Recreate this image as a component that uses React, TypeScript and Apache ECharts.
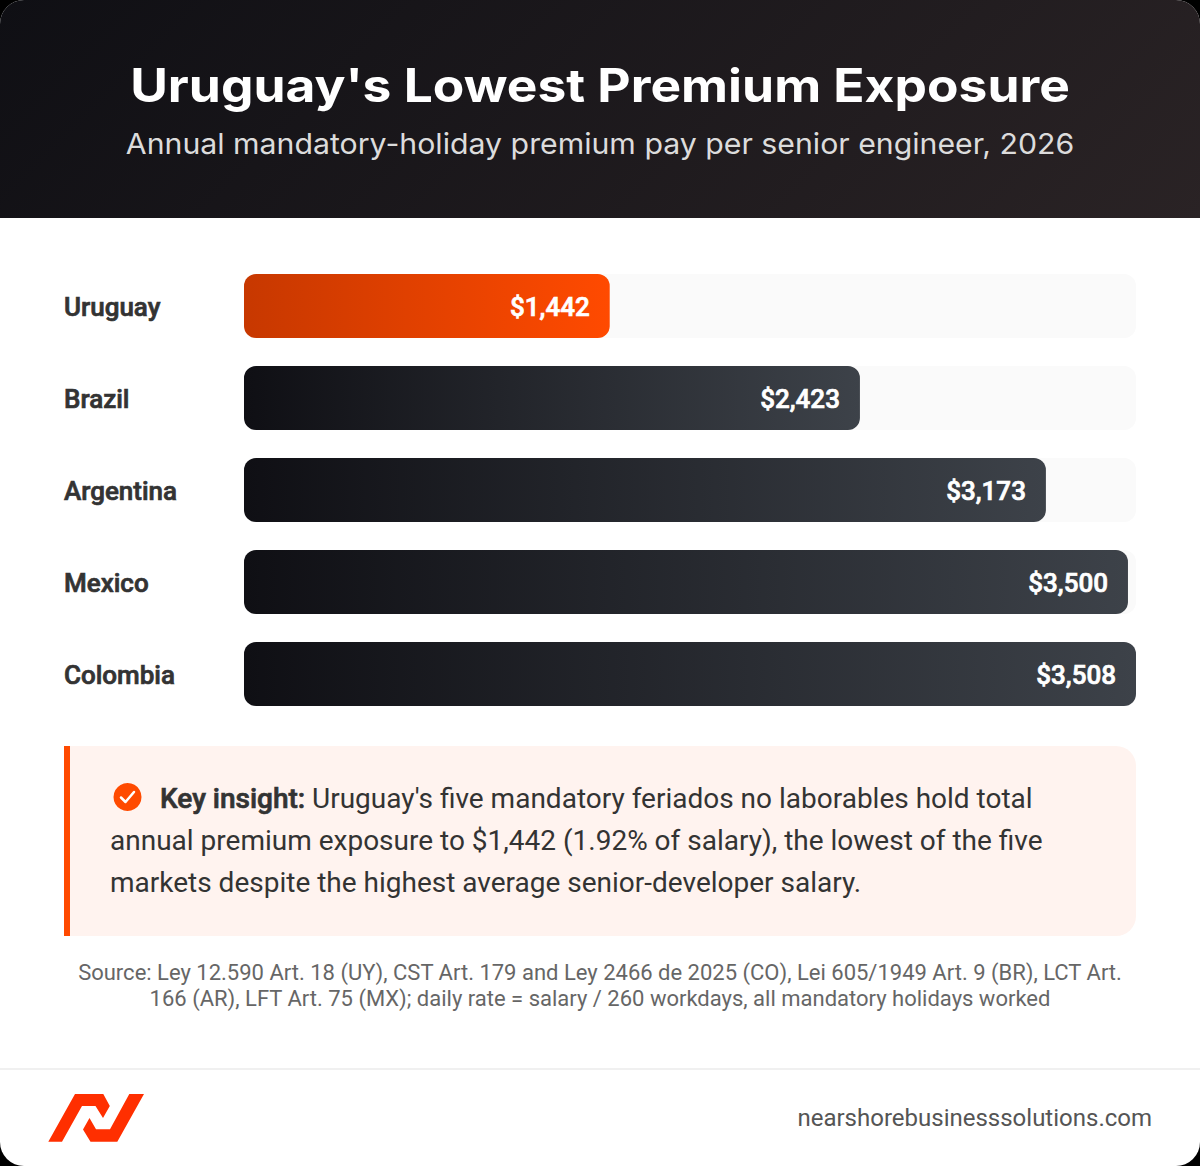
import React, { useEffect, useRef } from "react";
import * as echarts from "echarts";

const TITLE = "Uruguay's Lowest Premium Exposure";
const SUBTITLE = "Annual mandatory-holiday premium pay per senior engineer, 2026";
const categories = ["Uruguay", "Brazil", "Argentina", "Mexico", "Colombia"];
const premiumLabels = ["$1,442", "$2,423", "$3,173", "$3,500", "$3,508"];
const barWidthPercent = [41, 69.05, 89.9, 99.1, 100];
const insightBold = "Key insight:";
const insightLines = [
  "Uruguay's five mandatory feriados no laborables hold total",
  "annual premium exposure to $1,442 (1.92% of salary), the lowest of the five",
  "markets despite the highest average senior-developer salary.",
];
const sourceLines = [
  "Source: Ley 12.590 Art. 18 (UY), CST Art. 179 and Ley 2466 de 2025 (CO), Lei 605/1949 Art. 9 (BR), LCT Art.",
  "166 (AR), LFT Art. 75 (MX); daily rate = salary / 260 workdays, all mandatory holidays worked",
];
const SITE = "nearshorebusinesssolutions.com";

const LOGO_PATH =
  "M48.3 1141.7 L75 1094 L103.3 1094 L109.8 1106 L103 1118 L95.5 1106 L82 1106 L62 1141.7 Z M89.5 1118 L96 1129.3 L110 1129.3 L129.3 1094 L144 1094 L117.3 1141.7 L90.5 1141.7 L83 1129.5 Z";
echarts.graphic.registerShape("logo", (echarts.graphic as any).extendPath(LOGO_PATH, {}));

const GRID_WIDTH = 892;
const BAR_HEIGHT = 64;

const grad = (a: string, b: string) =>
  new echarts.graphic.LinearGradient(0, 0, 1, 0, [
    { offset: 0, color: a },
    { offset: 1, color: b },
  ]);

export default function App() {
  const ref = useRef<HTMLDivElement>(null);
  useEffect(() => {
    document.body.style.margin = "0";
    document.body.style.background = "#000";
    const chart = echarts.init(ref.current!, null, { renderer: "svg" });
    const body = "Roboto";
    const txt = (x: number, y: number, text: string, fontSize: number, fill: string, extra: any = {}) => ({
      type: "text",
      x,
      y,
      ...(extra.scaleX ? { scaleX: extra.scaleX } : {}),
      style: { text, fontSize, fill, fontFamily: body, verticalAlign: "middle", ...extra, scaleX: undefined },
    });
    chart.setOption({
      animation: false,
      backgroundColor: "transparent",
      graphic: [
        { type: "rect", shape: { x: 0, y: 0, width: 1200, height: 1166, r: 24 }, style: { fill: "#fff" } },
        {
          type: "rect",
          shape: { x: 0, y: 0, width: 1200, height: 218, r: [24, 24, 0, 0] },
          style: {
            fill: new echarts.graphic.LinearGradient(
              245.5,
              -245.5,
              954.5,
              463.5,
              [
                { offset: 0, color: "#0f0f14" },
                { offset: 1, color: "#2a2325" },
              ],
              true
            ),
          },
        },
        txt(600, 86, TITLE, 46, "#fff", { fontFamily: "Inter", fontWeight: 700, align: "center", scaleX: 1.12 }),
        txt(600, 143.5, SUBTITLE, 29, "#dcdcdc", { fontFamily: "Inter", fontWeight: 400, align: "center", scaleX: 1.044 }),
        { type: "rect", shape: { x: 64, y: 746, width: 1072, height: 190, r: [0, 20, 20, 0] }, style: { fill: "#fff3ef" } },
        { type: "rect", shape: { x: 64, y: 746, width: 6, height: 190 }, style: { fill: "#ff4a00" } },
        { type: "circle", shape: { cx: 127.5, cy: 797, r: 14 }, style: { fill: "#ff4a00" } },
        {
          type: "polyline",
          shape: { points: [[121, 797.5], [125.5, 802], [134, 792]] },
          style: { stroke: "#fff", lineWidth: 2.5, fill: "none", lineCap: "round", lineJoin: "round" },
        },
        txt(160, 798, insightBold, 28, "#333", { fontWeight: 500, stroke: "#333", lineWidth: 0.7 }),
        txt(312, 798, insightLines[0], 28, "#333"),
        txt(110, 840, insightLines[1], 28, "#333"),
        txt(110, 882, insightLines[2], 28, "#333"),
        txt(600, 972, sourceLines[0], 22, "#666", { align: "center" }),
        txt(600, 998, sourceLines[1], 22, "#666", { align: "center" }),
        { type: "rect", shape: { x: 0, y: 1068, width: 1200, height: 2 }, style: { fill: "#f0f0f0" } },
        { type: "logo", style: { fill: "#ff2f00" } },
        txt(1152, 1118, SITE, 24, "#555", { align: "right" }),
      ],
      grid: { left: 244, top: 260, width: GRID_WIDTH, height: 460 },
      xAxis: { type: "value", min: 0, max: 100, show: false },
      yAxis: {
        type: "category",
        inverse: true,
        data: categories,
        axisLine: { show: false },
        axisTick: { show: false },
        axisLabel: {
          margin: 180,
          align: "left",
          formatter: (v: string) => `{a|${v}}`,
          rich: {
            a: {
              fontFamily: body,
              fontSize: 26,
              fontWeight: 500,
              color: "#333",
              textBorderColor: "#333",
              textBorderWidth: 0.7,
              padding: [2, 0, 0, 0],
            },
          },
        },
      },
      series: [
        {
          type: "bar",
          barWidth: BAR_HEIGHT,
          showBackground: true,
          backgroundStyle: { color: "#fafafa", borderRadius: 12 },
          itemStyle: { borderRadius: 12 },
          data: barWidthPercent.map((value, i) => ({
            value,
            itemStyle: { color: i === 0 ? grad("#c73800", "#ff4a00") : grad("#0f0f14", "#3d4249") },
          })),
          label: {
            show: true,
            position: "insideRight",
            distance: 20,
            offset: [0, 1],
            fontFamily: body,
            fontSize: 26,
            fontWeight: 500,
            color: "#fff",
            textBorderColor: "#fff",
            textBorderWidth: 0.7,
            formatter: (p: any) => premiumLabels[p.dataIndex],
          },
        },
      ],
    });
    return () => chart.dispose();
  }, []);
  return <div ref={ref} style={{ width: 1200, height: 1166, background: "#000" }} />;
}
